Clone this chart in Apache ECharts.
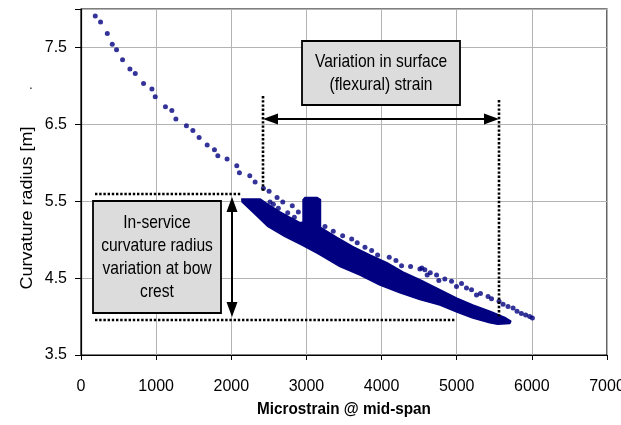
<!DOCTYPE html>
<html>
<head>
<meta charset="utf-8">
<script src="https://cdn.jsdelivr.net/npm/echarts@6/dist/echarts.min.js"></script>
<style>
  html, body { margin: 0; padding: 0; background: #ffffff; }
  #chart { width: 621px; height: 425px; }
</style>
</head>
<body>
<div id="chart"></div>
<script>
// Sparse readings: curvature radius [m] against microstrain at mid-span
const curveStrain = [
  190, 260, 350, 416, 473, 553, 651, 722, 832, 944,
  988, 1124, 1209, 1263, 1403, 1489, 1572, 1679, 1776, 1821,
  1944, 2073, 2108, 2246, 2317, 2427, 2503, 2609, 2685, 2812,
  2892, 3247, 3357, 3482, 3602, 3676, 3779, 3868, 3947, 4102,
  4191, 4266, 4386, 4510, 4536, 4576, 4607, 4648, 4732, 4762,
  4842, 4931, 4997, 5064, 5130, 5197, 5263, 5316, 5417, 5463,
  5563, 5617, 5683, 5750, 5803, 5861, 5918, 5971, 6007,
  2516, 2560, 2626, 2751, 2839
];
const curveRadius = [
  7.91, 7.83, 7.68, 7.54, 7.47, 7.34, 7.22, 7.16, 7.03, 6.96,
  6.86, 6.73, 6.68, 6.57, 6.48, 6.42, 6.33, 6.23, 6.17, 6.09,
  6.05, 5.96, 5.87, 5.83, 5.75, 5.67, 5.63, 5.55, 5.49, 5.44,
  5.36, 5.17, 5.11, 5.05, 5.01, 4.96, 4.90, 4.86, 4.80, 4.77,
  4.73, 4.66, 4.65, 4.62, 4.63, 4.61, 4.54, 4.57, 4.54, 4.47,
  4.49, 4.46, 4.39, 4.43, 4.37, 4.35, 4.28, 4.30, 4.26, 4.23,
  4.20, 4.16, 4.13, 4.11, 4.07, 4.04, 4.02, 4.00, 3.98,
  5.49, 5.46, 5.41, 5.35, 5.29
];

// Outline of the dense in-service cloud (upper edge left to right, then lower edge back)
const bandStrain = [
  2140, 2383, 2489, 2649, 2782, 2915, 2955, 2955, 2981, 3140,
  3187, 3187, 3406, 3619, 3845, 4071, 4284, 4510, 4776, 5002,
  5214, 5440, 5640, 5720,
  5707, 5546, 5440, 5214, 5002, 4776, 4510, 4245, 3978, 3712,
  3446, 3153, 2941, 2715, 2489, 2316, 2144
];
const bandRadius = [
  5.53, 5.53, 5.46, 5.36, 5.29, 5.22, 5.23, 5.52, 5.55, 5.55,
  5.52, 5.16, 5.03, 4.91, 4.80, 4.70, 4.58, 4.48, 4.35, 4.24,
  4.15, 4.07, 3.99, 3.94,
  3.91, 3.90, 3.92, 3.98, 4.06, 4.15, 4.22, 4.31, 4.41, 4.54,
  4.65, 4.82, 4.93, 5.04, 5.17, 5.33, 5.49
];

// Annotation anchors in data units
const strainSpan = [2423, 5563];      // surface strain range
const strainArrowRadius = 6.574;
const strainLeftGuide = [6.865, 5.63];
const strainRightGuide = [6.81, 3.99];
const radiusSpan = [5.596, 3.956];    // in-service radius range
const radiusArrowStrain = 2015;
const radiusTopGuide = [190, 2144];
const radiusBottomGuide = [190, 4997];
const strainBox = { x: [2937, 5041], y: [7.578, 6.747], lines: ['Variation in surface', '(flexural) strain'] };
const radiusBox = { x: [154, 1861], y: [5.499, 4.052], lines: ['In-service', 'curvature radius', 'variation at bow', 'crest'] };

const SANS = "'Liberation Sans', Arial, sans-serif";
const NAVY = '#000080';

const chart = echarts.init(document.getElementById('chart'), null, { renderer: 'canvas' });

chart.setOption({
  animation: false,
  backgroundColor: '#ffffff',
  grid: {
    left: 81, right: 14, top: 9, bottom: 70,
    containLabel: false, outerBoundsMode: 'none',
    show: true, borderColor: '#000000', borderWidth: 1.2, backgroundColor: 'transparent'
  },
  xAxis: {
    type: 'value', min: 0, max: 7000, interval: 1000,
    axisLine: { show: true, onZero: false, lineStyle: { color: '#000', width: 1.2 } },
    axisTick: { show: true, inside: false, length: 5, lineStyle: { color: '#000', width: 1 } },
    axisLabel: { margin: 24, fontFamily: SANS, fontSize: 16, color: '#000', formatter: v => String(v) },
    splitLine: { show: true, lineStyle: { color: '#b3b3b3', width: 1 } }
  },
  yAxis: {
    type: 'value', min: 3.5, max: 8.0, interval: 1,
    axisLine: { show: true, onZero: false, lineStyle: { color: '#000', width: 1.2 } },
    axisTick: { show: true, inside: false, length: 6, lineStyle: { color: '#000', width: 1 } },
    axisLabel: {
      margin: 14, fontFamily: SANS, fontSize: 16, color: '#000',
      formatter: v => (Math.abs(v - 8) < 1e-9 ? '' : v.toFixed(1))
    },
    splitLine: { show: true, lineStyle: { color: '#b3b3b3', width: 1 } }
  },
  series: [
    {
      type: 'custom',
      name: 'cloud',
      coordinateSystem: 'cartesian2d',
      data: bandStrain.map((x, i) => [x, bandRadius[i]]),
      encode: { x: 0, y: 1 },
      renderItem: function (params, api) {
        if (params.dataIndex !== 0) return null;
        const pts = bandStrain.map((x, i) => api.coord([x, bandRadius[i]]));
        return {
          type: 'polygon',
          shape: { points: pts },
          style: { fill: NAVY, stroke: NAVY, lineWidth: 1.5, lineJoin: 'round' }
        };
      },
      z: 2
    },
    {
      type: 'scatter',
      name: 'readings',
      data: curveStrain.map((x, i) => [x, curveRadius[i]]),
      symbol: 'circle',
      symbolSize: 5,
      itemStyle: { color: NAVY },
      z: 3
    }
  ]
});

// Annotations placed from data units through the grid's own mapping
const P = (x, y) => {
  const p = chart.convertToPixel({ gridIndex: 0 }, [x, y]);
  return [Math.round(p[0]), Math.round(p[1])];
};
const g = [];

function dotted(a, b) {
  g.push({ type: 'line', z: 100,
    shape: { x1: a[0], y1: a[1], x2: b[0], y2: b[1] },
    style: { stroke: '#000', lineWidth: 2.6, lineDash: [2.4, 1.8] } });
}
function head(tip, dx, dy, len, half) {
  // dx, dy: unit direction pointing toward the tip
  const bx = tip[0] - dx * len, by = tip[1] - dy * len;
  const nx = -dy, ny = dx;
  g.push({ type: 'polygon', z: 101,
    shape: { points: [[tip[0], tip[1]], [bx + nx * half, by + ny * half], [bx - nx * half, by - ny * half]] },
    style: { fill: '#000' } });
}
function doubleArrow(a, b) {
  const L = Math.hypot(b[0] - a[0], b[1] - a[1]);
  const dx = (b[0] - a[0]) / L, dy = (b[1] - a[1]) / L;
  g.push({ type: 'line', z: 100,
    shape: { x1: a[0] + dx * 8, y1: a[1] + dy * 8, x2: b[0] - dx * 8, y2: b[1] - dy * 8 },
    style: { stroke: '#000', lineWidth: 2 } });
  head(b, dx, dy, 15, 5.5);
  head(a, -dx, -dy, 15, 5.5);
}
// Narrow lettering: regular sans squeezed horizontally
function narrowText(text, x, y, size, opts) {
  opts = opts || {};
  g.push({ type: 'text', z: 102, x: x, y: y,
    rotation: opts.rotation || 0,
    scaleX: opts.scaleX == null ? 0.82 : opts.scaleX,
    scaleY: opts.scaleY == null ? 1 : opts.scaleY,
    style: { text: text, x: 0, y: 0, align: 'center', verticalAlign: 'middle',
      font: (opts.weight || 'normal') + ' ' + size + 'px ' + SANS,
      lineHeight: opts.lineHeight || size, fill: '#000' } });
}
function box(spec) {
  const p1 = P(spec.x[0], spec.y[0]), p2 = P(spec.x[1], spec.y[1]);
  g.push({ type: 'rect', z: 100,
    shape: { x: p1[0], y: p1[1], width: p2[0] - p1[0], height: p2[1] - p1[1] },
    style: { fill: '#dcdcdc', stroke: '#000', lineWidth: 1.8 } });
  narrowText(spec.lines.join('\n'), (p1[0] + p2[0]) / 2, (p1[1] + p2[1]) / 2, 19, { lineHeight: 23 });
}

// Surface strain range
dotted(P(strainSpan[0], strainLeftGuide[0]), P(strainSpan[0], strainLeftGuide[1]));
dotted(P(strainSpan[1], strainRightGuide[0]), P(strainSpan[1], strainRightGuide[1]));
doubleArrow(P(strainSpan[0], strainArrowRadius), P(strainSpan[1], strainArrowRadius));
box(strainBox);

// In-service curvature radius range
dotted(P(radiusTopGuide[0], radiusSpan[0]), P(radiusTopGuide[1], radiusSpan[0]));
dotted(P(radiusBottomGuide[0], radiusSpan[1]), P(radiusBottomGuide[1], radiusSpan[1]));
doubleArrow(P(radiusArrowStrain, radiusSpan[0] - 0.04), P(radiusArrowStrain, radiusSpan[1] + 0.04));
box(radiusBox);

// Axis titles
narrowText('Microstrain @ mid-span', 344, 409, 17, { weight: 'bold', scaleX: 0.9 });
narrowText('Curvature radius [m]', 28, 208, 18, { rotation: Math.PI / 2, scaleX: 1, scaleY: 0.9 });
narrowText('.', 31, 86, 12, { scaleX: 1 });

chart.setOption({ graphic: g });
</script>
</body>
</html>
